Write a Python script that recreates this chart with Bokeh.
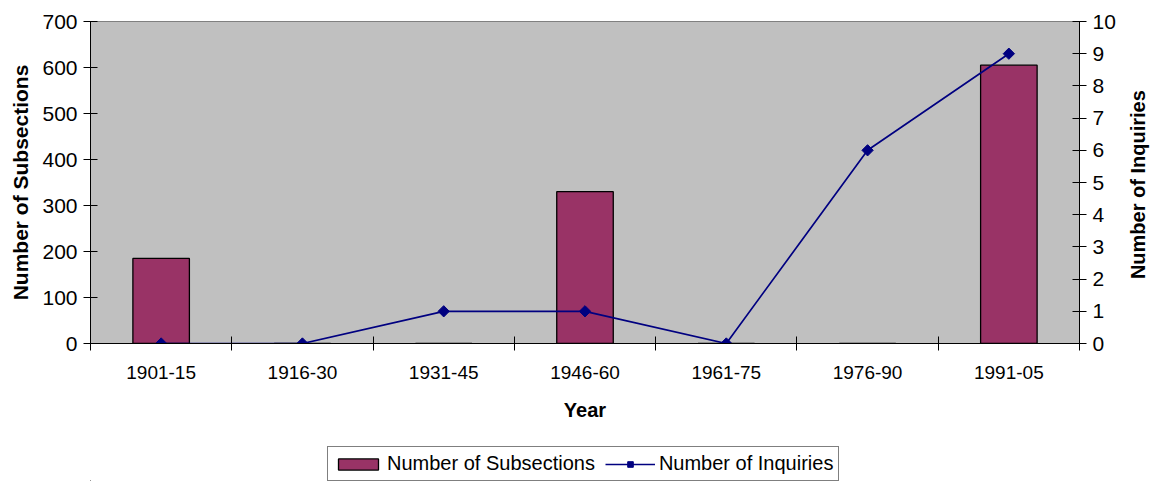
import math
from bokeh.plotting import figure
from bokeh.layouts import column
from bokeh.models import Range1d, LinearAxis, FixedTicker, Legend, LegendItem
from bokeh.embed import file_html
from bokeh.resources import INLINE

categories = ["1901-15", "1916-30", "1931-45", "1946-60", "1961-75", "1976-90", "1991-05"]
subsections = [185, 0, 0, 330, 0, 0, 605]
inquiries = [0, 0, 1, 1, 0, 6, 9]
left_ticks = [0, 100, 200, 300, 400, 500, 600, 700]
right_ticks = [0, 1, 2, 3, 4, 5, 6, 7, 8, 9, 10]

n = len(categories)
xc = [i + 0.5 for i in range(n)]
FONT = "Liberation Sans"
BAR = "#993366"
NAVY = "#000080"

p = figure(frame_width=989, frame_height=322,
           min_border_left=90, min_border_right=0, min_border_top=21, min_border_bottom=100,
           x_range=Range1d(0, n), y_range=Range1d(0, left_ticks[-1]),
           output_backend="svg", toolbar_location=None,
           background_fill_color="#C0C0C0", border_fill_color="white",
           outline_line_color="#808080")
p.extra_y_ranges = {"inq": Range1d(0, right_ticks[-1])}
p.xgrid.visible = False
p.ygrid.visible = False

bars = p.vbar(x=xc, top=subsections, width=0.4, fill_color=BAR,
              line_color="black", line_width=1.3)
line = p.line(x=xc, y=inquiries, y_range_name="inq", line_color=NAVY, line_width=1.7)
marks = p.scatter(x=xc, y=inquiries, y_range_name="inq", marker="square", angle=math.pi / 4,
                  size=8, fill_color=NAVY, line_color=NAVY)

# x axis
xa = p.xaxis[0]
xa.ticker = FixedTicker(ticks=xc, minor_ticks=list(range(n + 1)))
xa.major_label_overrides = {v: c for v, c in zip(xc, categories)}
xa.major_tick_in = 0
xa.major_tick_out = 0
xa.minor_tick_in = 7
xa.minor_tick_out = 7
xa.minor_tick_line_color = "black"
xa.axis_line_color = "black"
xa.major_label_text_font = FONT
xa.major_label_text_font_size = "19px"
xa.major_label_text_color = "black"
xa.major_label_standoff = 15
xa.axis_label = "Year"
xa.axis_label_text_font = FONT
xa.axis_label_text_font_style = "bold"
xa.axis_label_text_font_size = "20px"
xa.axis_label_text_color = "black"
xa.axis_label_standoff = 17

# left axis
ya = p.yaxis[0]
ya.ticker = FixedTicker(ticks=left_ticks)
ya.minor_tick_line_color = None
ya.major_tick_in = 7
ya.major_tick_out = 7
ya.axis_line_color = "black"
ya.major_tick_line_color = "black"
ya.major_label_text_font = FONT
ya.major_label_text_font_size = "21px"
ya.major_label_text_color = "black"
ya.major_label_standoff = 6
ya.axis_label = "Number of Subsections"
ya.axis_label_text_font = FONT
ya.axis_label_text_font_style = "bold"
ya.axis_label_text_font_size = "21px"
ya.axis_label_text_color = "black"
ya.axis_label_standoff = 7

# right axis (ticks)
ra = LinearAxis(y_range_name="inq", ticker=FixedTicker(ticks=right_ticks))
ra.minor_tick_line_color = None
ra.major_tick_in = 7
ra.major_tick_out = 7
ra.axis_line_color = "black"
ra.major_tick_line_color = "black"
ra.major_label_text_font = FONT
ra.major_label_text_font_size = "21px"
ra.major_label_text_color = "black"
ra.major_label_standoff = 6
p.add_layout(ra, "right")

# right axis title, reading bottom-to-top, starting near value 2
title_pos = 2.0
rt = LinearAxis(y_range_name="inq", ticker=FixedTicker(ticks=[title_pos]))
rt.major_label_overrides = {title_pos: "Number of Inquiries"}
rt.major_label_orientation = math.pi / 2
rt.axis_line_color = None
rt.major_tick_line_color = None
rt.minor_tick_line_color = None
rt.major_label_text_font = FONT
rt.major_label_text_font_style = "bold"
rt.major_label_text_font_size = "20px"
rt.major_label_text_color = "black"
rt.major_label_standoff = 14
p.add_layout(rt, "right")

# legend in its own strip below the chart; its sample glyphs carry the series
# data but sit far outside that strip's visible range
lg = figure(width=1100, height=38, min_border=0, x_range=Range1d(1000, 1010), y_range=Range1d(5000, 5010),
            x_axis_type=None, y_axis_type=None, output_backend="svg", toolbar_location=None,
            background_fill_color="white", border_fill_color="white", outline_line_color=None)
lg.xgrid.visible = False
lg.ygrid.visible = False
lb = lg.vbar(x=xc, top=subsections, width=0.4, fill_color=BAR, line_color="black", line_width=1.3)
ll = lg.line(x=xc, y=inquiries, line_color=NAVY, line_width=1.7)
lm = lg.scatter(x=xc, y=inquiries, marker="square", angle=math.pi / 4, fill_color=NAVY, line_color=NAVY)

legend = Legend(items=[LegendItem(label="Number of Subsections", renderers=[lb]),
                       LegendItem(label="Number of Inquiries", renderers=[ll, lm])],
                orientation="horizontal", location=(237, 0),
                border_line_color="black", border_line_width=1,
                background_fill_color="white", background_fill_alpha=1,
                label_text_font=FONT, label_text_font_size="20px",
                label_text_color="black", label_height=22,
                glyph_width=50, glyph_height=14, label_standoff=4, spacing=10,
                padding=5, margin=0)
lg.add_layout(legend, "center")

open("out.html", "w").write(file_html(column(p, lg), INLINE))
